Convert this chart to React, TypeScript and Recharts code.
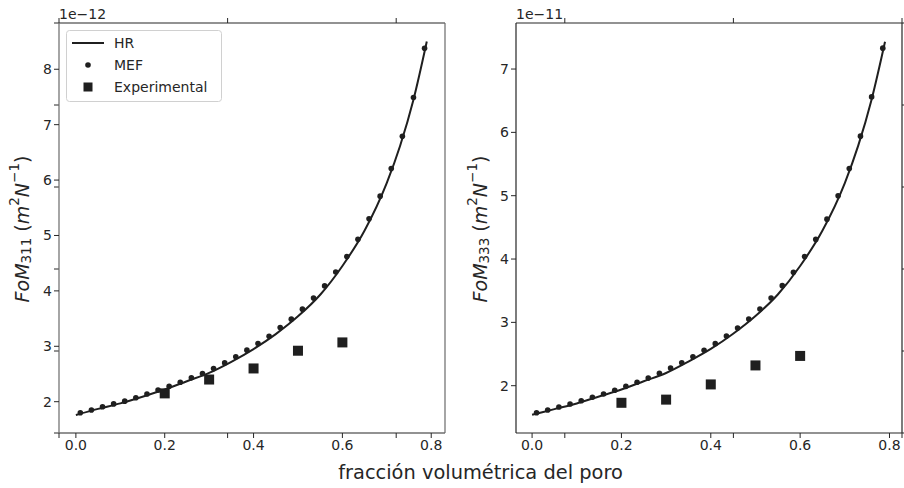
import React from "react";
import {
  ComposedChart,
  Line,
  Scatter,
  XAxis,
  YAxis,
} from "recharts";

const INK = "#262626";
const CURVE = "#1f1f1f";
const FONT = "DejaVu Sans, sans-serif";

// values
const hrX = [0, 0.05, 0.1, 0.15, 0.2, 0.25, 0.3, 0.35, 0.4, 0.45, 0.5, 0.55, 0.6, 0.65, 0.7, 0.73, 0.76, 0.79];
const hrLeft = [1.76, 1.87, 1.97, 2.09, 2.22, 2.37, 2.52, 2.72, 2.95, 3.22, 3.54, 3.93, 4.45, 5.09, 5.95, 6.62, 7.45, 8.5];
const hrRight = [1.54, 1.63, 1.72, 1.83, 1.94, 2.07, 2.2, 2.38, 2.58, 2.82, 3.1, 3.44, 3.89, 4.45, 5.2, 5.79, 6.52, 7.43];

const mefX = [
  0.01, 0.035, 0.06, 0.085, 0.11, 0.135, 0.16, 0.185, 0.21, 0.235, 0.26, 0.285, 0.31, 0.335, 0.36, 0.385,
  0.41, 0.435, 0.46, 0.485, 0.51, 0.535, 0.56, 0.585, 0.61, 0.635, 0.66, 0.685, 0.71, 0.735, 0.76, 0.785,
];
const mefLeft = [
  1.8, 1.85, 1.91, 1.96, 2.01, 2.07, 2.14, 2.21, 2.28, 2.35, 2.43, 2.51, 2.6, 2.7, 2.81, 2.93,
  3.05, 3.18, 3.34, 3.49, 3.67, 3.87, 4.09, 4.34, 4.62, 4.93, 5.3, 5.71, 6.21, 6.79, 7.49, 8.38,
];
const mefRight = [
  1.573, 1.616, 1.664, 1.711, 1.763, 1.817, 1.869, 1.927, 1.99, 2.054, 2.12, 2.196, 2.28, 2.363, 2.458, 2.56,
  2.664, 2.785, 2.912, 3.053, 3.21, 3.385, 3.58, 3.79, 4.04, 4.31, 4.63, 5.0, 5.43, 5.94, 6.56, 7.33,
];

const expX = [0.2, 0.3, 0.4, 0.5, 0.6];
const expLeft = [2.15, 2.4, 2.6, 2.92, 3.07];
const expRight = [1.73, 1.78, 2.02, 2.32, 2.47];

const xTicks = [0, 0.2, 0.4, 0.6, 0.8];
const leftTicks = [2, 3, 4, 5, 6, 7, 8];
const rightTicks = [2, 3, 4, 5, 6, 7];
// the figure-wide axes behind both panels (labels hidden, only ticks)
const bgTicks = [0, 0.2, 0.4, 0.6, 0.8, 1];
const bgCorners = [0, 1];

const pairs = (xs: number[], ys: number[]) => xs.map((x, i) => ({ x, y: ys[i] }));

const tickStyle = { fontSize: 14, fill: INK, fontFamily: FONT };

const Dot = (p: any) => <circle cx={p.cx} cy={p.cy} r={2.8} fill={CURVE} />;
const Square = (p: any) => <rect x={p.cx - 5} y={p.cy - 5} width={10} height={10} fill={CURVE} />;
const Nothing = () => <g />;

function yLabel(sub: string, dx: number) {
  return (props: any) => {
    const vb = props.viewBox || { x: 0 };
    const cx = vb.x + dx;
    const cy = 229;
    return (
      <text
        x={cx}
        y={cy}
        transform={`rotate(-90, ${cx}, ${cy})`}
        textAnchor="middle"
        dominantBaseline="central"
        fontSize={19}
        fill={INK}
        fontFamily={FONT}
      >
        <tspan fontStyle="italic">FoM</tspan>
        <tspan fontSize={13.5} dy={4}>{sub}</tspan>
        <tspan dy={-4}>{" ("}</tspan>
        <tspan fontStyle="italic">m</tspan>
        <tspan fontSize={13.5} dy={-8}>2</tspan>
        <tspan fontStyle="italic" dy={8}>N</tspan>
        <tspan fontSize={13.5} dy={-8}>−1</tspan>
        <tspan dy={8}>)</tspan>
      </text>
    );
  };
}

function offsetLabel(txt: string) {
  return (props: any) => {
    const vb = props.viewBox || { x: 0, y: 0 };
    return (
      <text x={vb.x} y={19} fontSize={14} fill={INK} fontFamily={FONT}>
        {txt}
      </text>
    );
  };
}

interface PanelProps {
  hr: number[];
  mef: number[];
  exp: number[];
  yDomain: [number, number];
  yTicks: number[];
  xDomain: [number, number];
  sub: string;
  exponent: string;
  yWidth: number;
  rightMargin: number;
  labelDx: number;
  sideSpine: string;
}

function Panel(p: PanelProps) {
  return (
    <ComposedChart
      width={452}
      height={488}
      margin={{ top: 22, right: p.rightMargin - 1, bottom: 0, left: 0 }}
    >
      <XAxis
        xAxisId="b"
        type="number"
        dataKey="x"
        domain={p.xDomain}
        allowDataOverflow
        ticks={xTicks}
        tickFormatter={(v: number) => v.toFixed(1)}
        tick={tickStyle}
        tickSize={5}
        height={55}
        stroke={INK}
        axisLine={{ stroke: INK, strokeWidth: 1.2 }}
      />
      <XAxis
        xAxisId="t"
        orientation="top"
        type="number"
        dataKey="x"
        domain={p.xDomain}
        allowDataOverflow
        ticks={[]}
        tick={false}
        tickLine={false}
        height={1}
        axisLine={{ stroke: INK, strokeWidth: 1.2 }}
        label={{ content: offsetLabel(p.exponent) }}
      />
      <YAxis
        yAxisId="l"
        type="number"
        domain={p.yDomain}
        allowDataOverflow
        ticks={p.yTicks}
        tick={tickStyle}
        tickSize={5}
        width={p.yWidth}
        stroke={INK}
        axisLine={{ stroke: p.sideSpine, strokeWidth: 1.2 }}
        label={{ content: yLabel(p.sub, p.labelDx) }}
      />
      <YAxis
        yAxisId="r"
        orientation="right"
        type="number"
        domain={p.yDomain}
        allowDataOverflow
        ticks={[]}
        tick={false}
        tickLine={false}
        width={1}
        axisLine={{ stroke: p.sideSpine, strokeWidth: 1.2 }}
      />
      <Scatter
        xAxisId="t"
        yAxisId="r"
        data={pairs(mefX, p.mef)}
        dataKey="y"
        shape={Nothing}
        isAnimationActive={false}
      />
      <Line
        xAxisId="b"
        yAxisId="l"
        data={pairs(hrX, p.hr)}
        dataKey="y"
        type="monotone"
        stroke={CURVE}
        strokeWidth={2}
        dot={false}
        isAnimationActive={false}
      />
      <Scatter
        xAxisId="b"
        yAxisId="l"
        data={pairs(mefX, p.mef)}
        dataKey="y"
        shape={Dot}
        isAnimationActive={false}
      />
      <Scatter
        xAxisId="b"
        yAxisId="l"
        data={pairs(expX, p.exp)}
        dataKey="y"
        shape={Square}
        isAnimationActive={false}
      />
    </ComposedChart>
  );
}

function Background() {
  const corners = pairs(bgCorners, bgCorners);
  return (
    <ComposedChart width={904} height={488} margin={{ top: 0, right: 0, bottom: 0, left: 0 }}>
      <XAxis
        xAxisId="b"
        type="number"
        dataKey="x"
        domain={[0, 1]}
        allowDataOverflow
        ticks={bgTicks}
        tickFormatter={() => ""}
        tickSize={5}
        axisLine={false}
        stroke={INK}
        height={55}
        label={{
          content: () => (
            <text x={480.5} y={479} textAnchor="middle" fontSize={19.4} fill={INK} fontFamily={FONT}>
              fracción volumétrica del poro
            </text>
          ),
        }}
      />
      <XAxis
        xAxisId="t"
        orientation="top"
        type="number"
        dataKey="x"
        domain={[0, 1]}
        allowDataOverflow
        ticks={bgTicks}
        tickFormatter={() => ""}
        tickSize={5}
        axisLine={false}
        stroke={INK}
        height={23}
      />
      <YAxis
        yAxisId="l"
        type="number"
        domain={[0, 1]}
        allowDataOverflow
        ticks={bgTicks}
        tickFormatter={() => ""}
        tickSize={5}
        axisLine={false}
        stroke={INK}
        width={59}
      />
      <YAxis
        yAxisId="r"
        orientation="right"
        type="number"
        domain={[0, 1]}
        allowDataOverflow
        ticks={bgTicks}
        tickFormatter={() => ""}
        tickSize={5}
        axisLine={false}
        stroke={INK}
        width={2}
      />
      <Scatter xAxisId="b" yAxisId="l" data={corners} dataKey="y" shape={Nothing} isAnimationActive={false} />
      <Scatter xAxisId="t" yAxisId="r" data={corners} dataKey="y" shape={Nothing} isAnimationActive={false} />
    </ComposedChart>
  );
}

function LegendBox() {
  const row = (y: number, icon: React.ReactNode, text: string) => (
    <g>
      {icon}
      <text x={48} y={y + 5} fontSize={14} fill={INK} fontFamily={FONT}>
        {text}
      </text>
    </g>
  );
  return (
    <svg
      width={156}
      height={72}
      style={{ position: "absolute", left: 66, top: 30 }}
    >
      <rect x={0.5} y={0.5} width={155} height={71} rx={3} fill="rgba(255,255,255,0.8)" stroke="#d0d0d0" />
      {row(13, <line x1={6} x2={38} y1={13} y2={13} stroke={CURVE} strokeWidth={2} />, "HR")}
      {row(35, <circle cx={22} cy={35} r={2.8} fill={CURVE} />, "MEF")}
      {row(57, <rect x={17.5} y={52.5} width={9} height={9} fill={CURVE} />, "Experimental")}
    </svg>
  );
}

export default function App() {
  return (
    <div style={{ position: "absolute", left: 0, top: 0, width: 904, height: 488, background: "#fff" }}>
      <div style={{ position: "absolute", left: 0, top: 0 }}>
        <Background />
      </div>
      <div style={{ position: "absolute", left: 0, top: 0 }}>
        <Panel
          hr={hrLeft}
          mef={mefLeft}
          exp={expLeft}
          yDomain={[1.435, 8.835]}
          yTicks={leftTicks}
          xDomain={[-0.038, 0.831]}
          sub="311"
          exponent="1e−12"
          yWidth={59}
          rightMargin={7}
          labelDx={22}
          sideSpine="#6a6a6a"
        />
      </div>
      <div style={{ position: "absolute", left: 452, top: 0 }}>
        <Panel
          hr={hrRight}
          mef={mefRight}
          exp={expRight}
          yDomain={[1.253, 7.727]}
          yTicks={rightTicks}
          xDomain={[-0.036, 0.828]}
          sub="333"
          exponent="1e−11"
          yWidth={64}
          rightMargin={2}
          labelDx={28}
          sideSpine={INK}
        />
      </div>
      <LegendBox />
    </div>
  );
}
